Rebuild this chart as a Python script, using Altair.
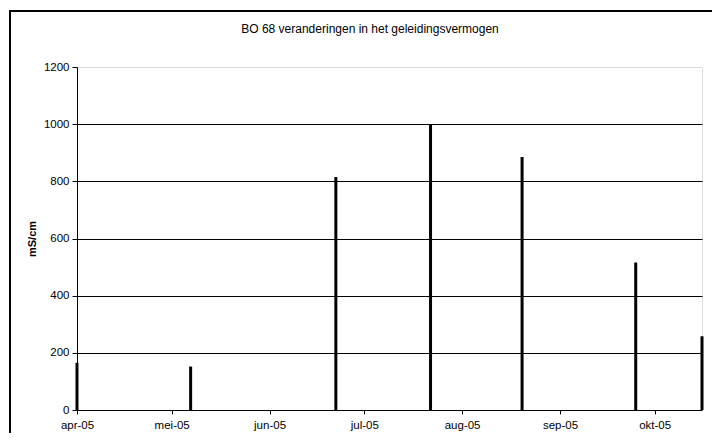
import altair as alt
import pandas as pd

dates = ["2005-04-01", "2005-05-07", "2005-06-22", "2005-07-22",
         "2005-08-20", "2005-09-25", "2005-10-16"]
values = [165, 152, 815, 1000, 885, 516, 258]

month_names = ["jan", "feb", "mrt", "apr", "mei", "jun", "jul",
               "aug", "sep", "okt", "nov", "dec"]
tick_months = [4, 5, 6, 7, 8, 9, 10]
y_ticks = [0, 200, 400, 600, 800, 1000, 1200]
title_text = "BO 68 veranderingen in het geleidingsvermogen"

df = pd.DataFrame({"date": dates, "value": values})
title_df = pd.DataFrame({"title": [title_text]})

FONT = "Liberation Sans"
names_js = "[" + ",".join("'%s'" % m for m in month_names) + "]"
label_expr = names_js + "[utcmonth(datum.value)] + '-' + utcFormat(datum.value, '%y')"

x_enc = alt.X(
    "date:T",
    scale=alt.Scale(type="utc",
                    domain=[alt.DateTime(year=2005, month=4, date=1, utc=True),
                            alt.DateTime(year=2005, month=10, date=16, utc=True)]),
    axis=alt.Axis(
        values=[alt.DateTime(year=2005, month=m, date=1, utc=True) for m in tick_months],
        labelExpr=label_expr, title=None, grid=False,
        domainColor="black", tickColor="black", tickSize=4,
        labelColor="black", labelFontSize=11.5, labelFont=FONT,
        labelPadding=5, labelFlush=False, labelOverlap=False,
    ),
)

y_enc = alt.Y(
    "value:Q",
    scale=alt.Scale(domain=[0, 1200], nice=False),
    axis=alt.Axis(
        values=y_ticks, format="d", title="mS/cm", titleFont=FONT, titleFontSize=11,
        titleFontWeight="bold", titleColor="black", titlePadding=6,
        grid=True, gridColor="black", gridWidth=1,
        gridOpacity={"condition": {"test": "datum.value == 1200 || datum.value == 0", "value": 0}, "value": 1},
        domainColor="black", tickColor="black", tickSize=5,
        labelColor="black", labelFontSize=11.5, labelFont=FONT, labelPadding=3,
    ),
)

bars = alt.Chart(df).mark_rule(strokeWidth=3, color="black").encode(
    x=x_enc, y=y_enc, y2=alt.datum(0)
)

frame = alt.Chart(title_df).mark_rect(
    fill=None, fillOpacity=0, stroke="black", strokeWidth=2
).encode(
    x=alt.value(-67), x2=alt.value(720), y=alt.value(-56), y2=alt.value(420)
)

title = alt.Chart(title_df).mark_text(
    font=FONT, fontSize=12, fontWeight="normal", color="black",
    align="center", baseline="alphabetic"
).encode(text="title:N", x=alt.value(293), y=alt.value(-34))

chart = alt.layer(frame, title, bars).properties(
    width=625, height=343,
    autosize=alt.AutoSizeParams(type="none"),
    padding={"left": 69, "top": 59, "right": 10, "bottom": 23},
).configure_view(stroke=None).configure(background="white")

chart.save("out.html", embed_options={"renderer": "svg", "actions": False})
